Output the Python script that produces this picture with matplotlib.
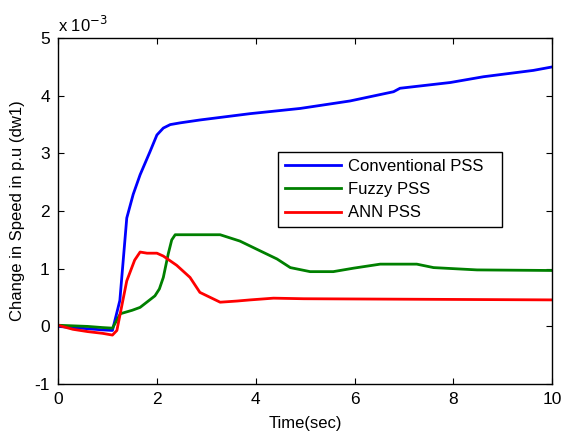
import matplotlib
matplotlib.use("Agg")
import matplotlib.pyplot as plt

plt.rcParams["font.family"] = ["Liberation Sans", "DejaVu Sans"]
plt.rcParams["axes.unicode_minus"] = False

# values in units of 1e-3 p.u.
conv_t = [0, 0.3, 0.6, 0.9, 1.1, 1.25, 1.39, 1.52, 1.66, 1.86, 2.0, 2.13, 2.27, 2.47, 2.87,
          3.89, 4.9, 5.91, 6.79, 6.92, 7.94, 8.61, 9.62, 10]
conv_y = [0, -0.02, -0.04, -0.06, -0.07, 0.45, 1.88, 2.29, 2.63, 3.03, 3.32, 3.44, 3.5,
          3.53, 3.58, 3.69, 3.78, 3.91, 4.07, 4.13, 4.23, 4.33, 4.44, 4.5]

fuzzy_t = [0, 0.3, 0.6, 0.9, 1.1, 1.26, 1.5, 1.66, 1.96, 2.05, 2.13, 2.23, 2.3, 2.37, 2.87,
           3.28, 3.68, 4.09, 4.43, 4.7, 5.1, 5.57, 5.98, 6.52, 7.26, 7.6, 8.48, 10]
fuzzy_y = [0.02, 0.01, 0.0, -0.02, -0.03, 0.22, 0.28, 0.33, 0.53, 0.65, 0.85, 1.26, 1.5, 1.59,
           1.59, 1.59, 1.48, 1.31, 1.17, 1.02, 0.95, 0.95, 1.01, 1.08, 1.08, 1.02, 0.98, 0.97]

ann_t = [0, 0.3, 0.6, 0.9, 1.1, 1.19, 1.39, 1.55, 1.66, 1.8, 2.0, 2.13, 2.4, 2.67, 2.87,
         3.28, 3.62, 3.89, 4.36, 4.97, 10]
ann_y = [0.02, -0.05, -0.09, -0.12, -0.15, -0.07, 0.79, 1.15, 1.29, 1.27, 1.27, 1.22, 1.06,
         0.85, 0.59, 0.42, 0.44, 0.46, 0.49, 0.48, 0.46]

labels = ["Conventional PSS", "Fuzzy PSS", "ANN PSS"]

fig = plt.figure(figsize=(5.64, 4.43), dpi=100)
ax = fig.add_axes([0.103, 0.133, 0.876, 0.781])

ax.plot(conv_t, conv_y, color=(0, 0, 1), lw=2, label=labels[0])
ax.plot(fuzzy_t, fuzzy_y, color=(0, 0.5, 0), lw=2, label=labels[1])
ax.plot(ann_t, ann_y, color=(1, 0, 0), lw=2, label=labels[2])

ax.set_xlim(0, 10)
ax.set_ylim(-1, 5)
ax.set_xticks(range(0, 11, 2))
ax.set_yticks(range(-1, 6))
ax.tick_params(direction="in", top=True, right=True, labelsize=12.5, length=4, pad=6)
for s in ax.spines.values():
    s.set_linewidth(1)

ax.set_xlabel("Time(sec)", fontsize=12, labelpad=6)
ax.set_ylabel("Change in Speed in p.u (dw1)", fontsize=12, labelpad=7)
ax.text(0.0, 1.01, r"x 10$^{-3}$", transform=ax.transAxes, fontsize=12,
        ha="left", va="bottom")

leg = ax.legend(loc="lower left", bbox_to_anchor=(0.445, 0.454, 0.454, 0.271),
                mode="expand", fontsize=12, fancybox=False, framealpha=1,
                edgecolor="black", handlelength=3.4, handletextpad=0.4,
                borderaxespad=0)
leg.get_frame().set_linewidth(1)

fig.savefig("out.png", dpi=100)
